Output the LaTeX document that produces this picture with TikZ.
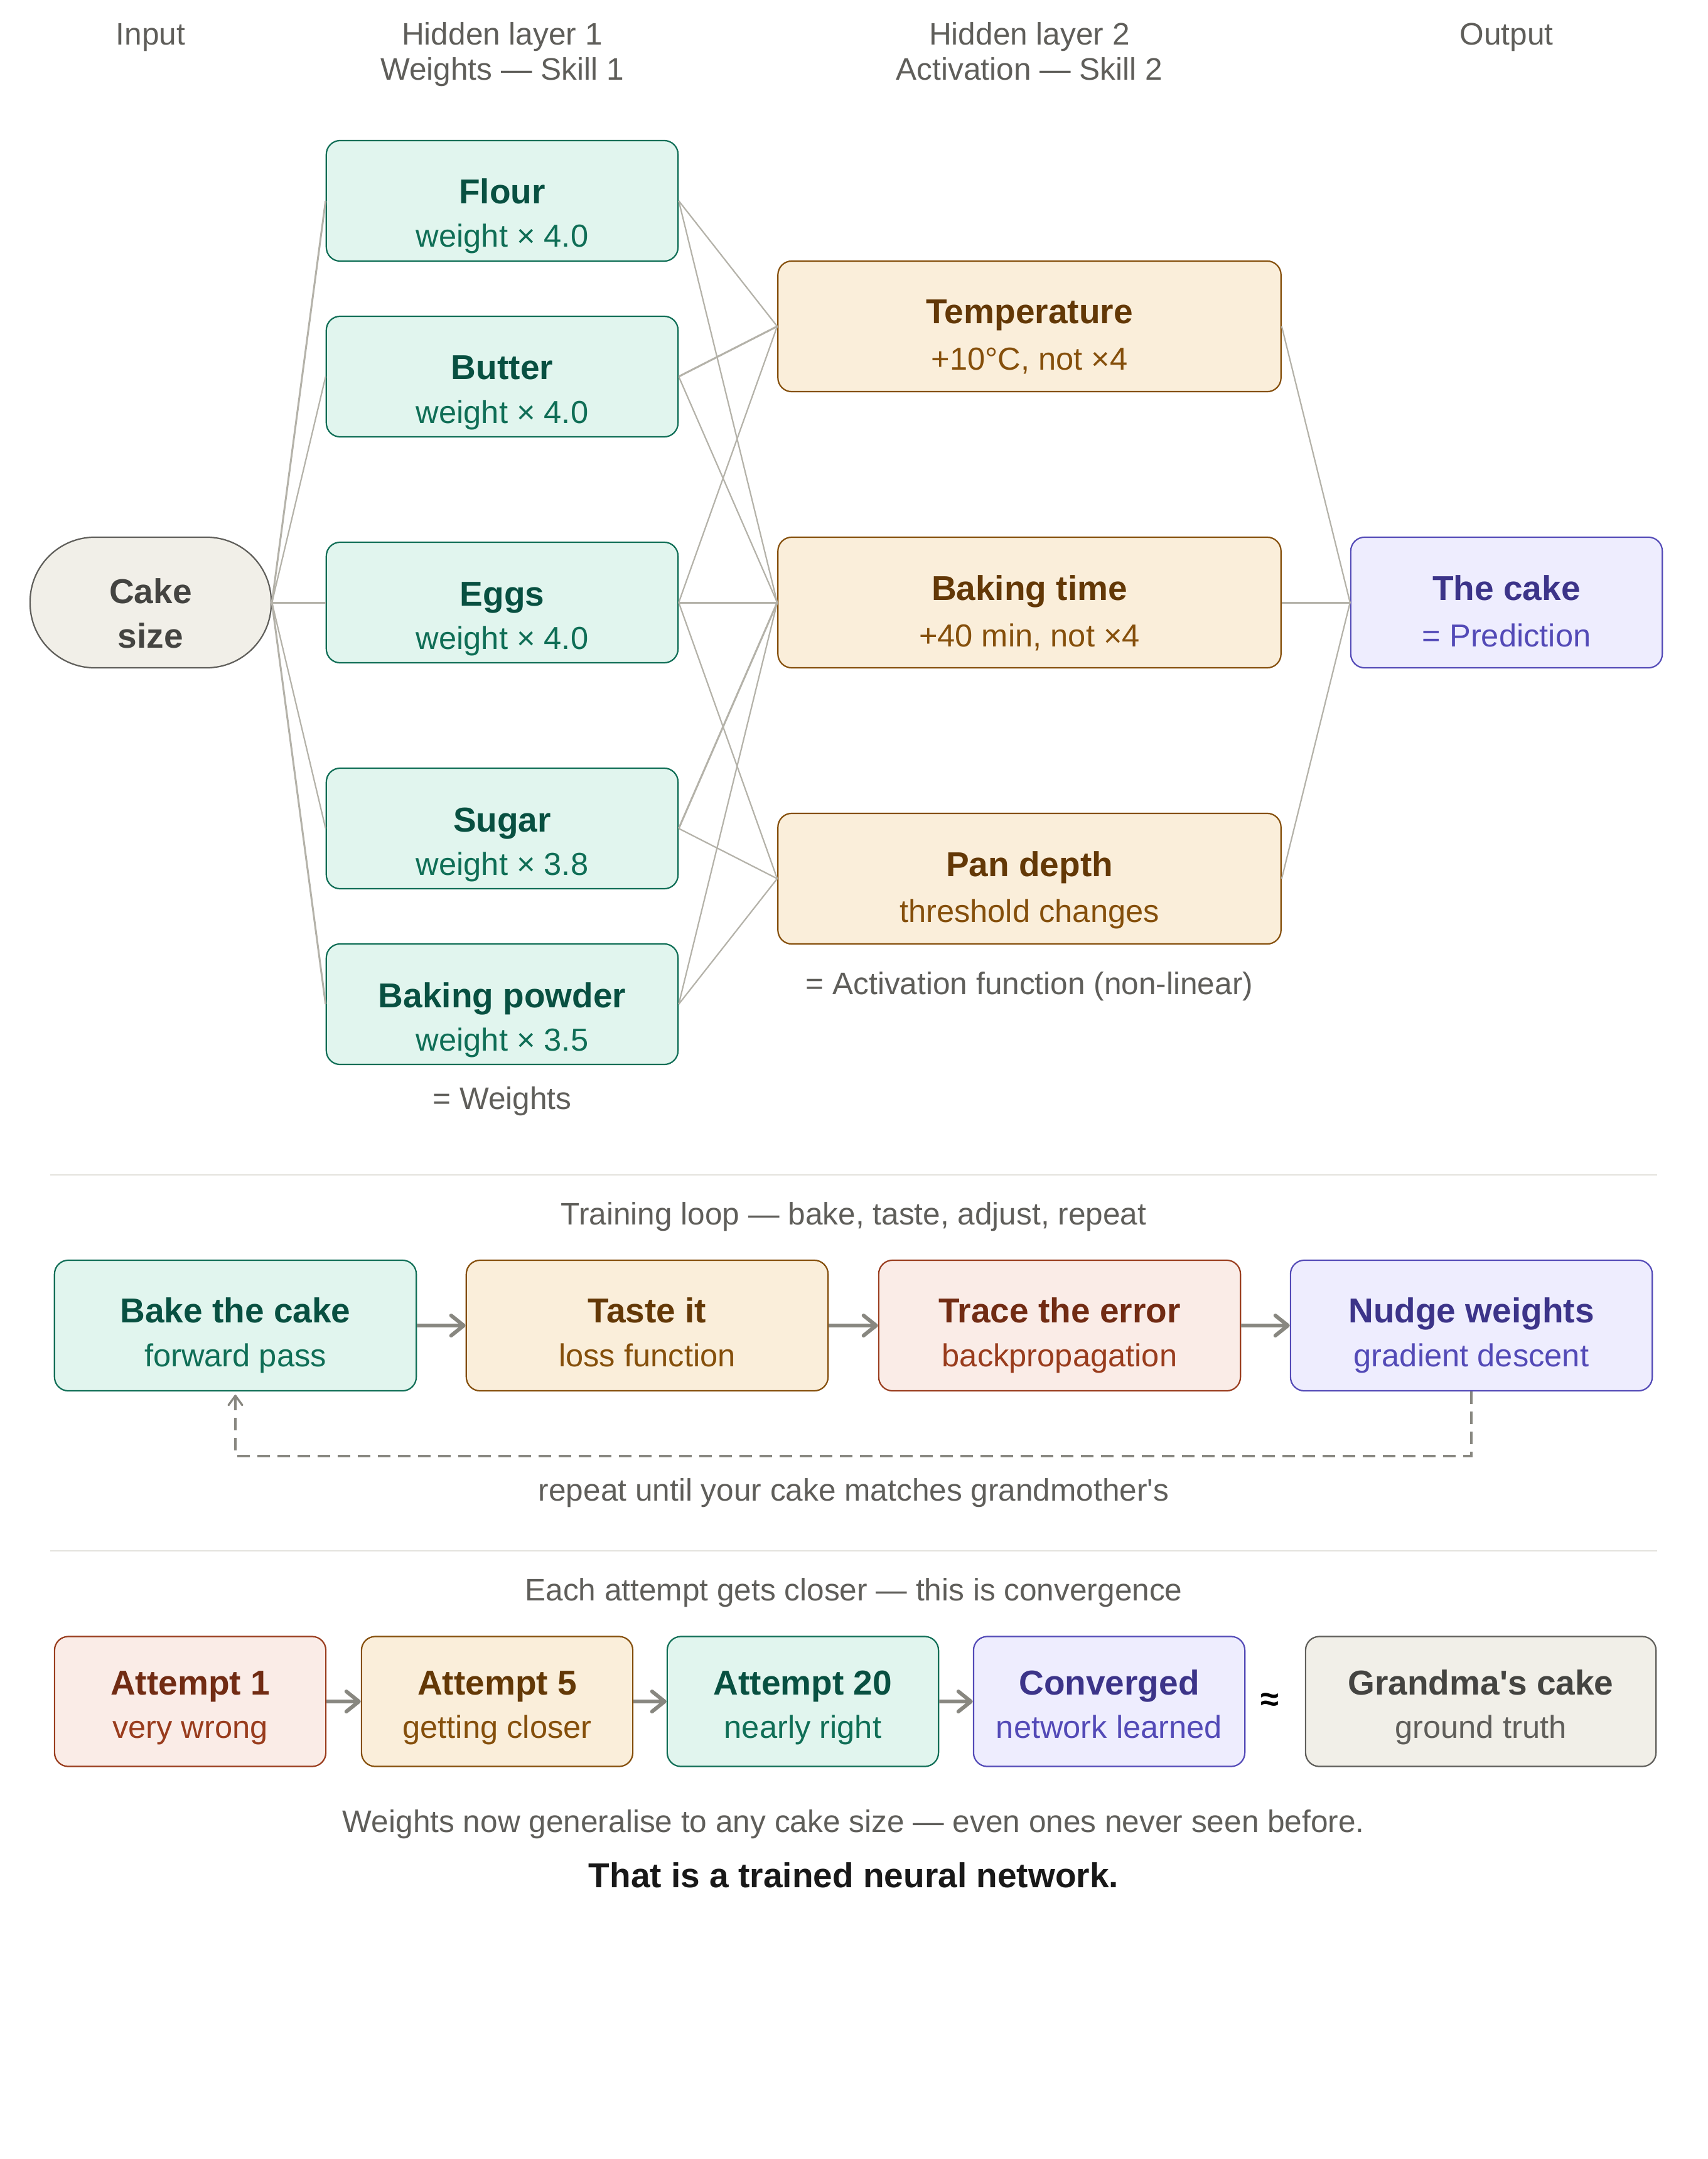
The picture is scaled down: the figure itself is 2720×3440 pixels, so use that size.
\documentclass[tikz,border=0pt]{standalone}
\usepackage{fontspec}
\setmainfont{Liberation Sans}
\usetikzlibrary{arrows.meta}
\definecolor{gfill}{HTML}{E1F5EE}
\definecolor{gdraw}{HTML}{0F6E56}
\definecolor{gtitle}{HTML}{085041}
\definecolor{afill}{HTML}{FAEEDA}
\definecolor{adraw}{HTML}{854F0B}
\definecolor{atitle}{HTML}{633806}
\definecolor{pfill}{HTML}{EEEDFE}
\definecolor{pdraw}{HTML}{534AB7}
\definecolor{ptitle}{HTML}{3C3489}
\definecolor{cfill}{HTML}{FAECE7}
\definecolor{cdraw}{HTML}{993C1D}
\definecolor{ctitle}{HTML}{712B13}
\definecolor{kfill}{HTML}{F1EFE8}
\definecolor{kdraw}{HTML}{5F5E5A}
\definecolor{ktitle}{HTML}{444441}
\definecolor{linec}{HTML}{B4B2A9}
\definecolor{arrc}{HTML}{888780}
\definecolor{txtc}{HTML}{5F5E5A}
\definecolor{sepc}{HTML}{E3E2DD}
\tikzset{
  box/.style={rectangle, rounded corners=0.22cm, line width=0.022cm, inner sep=0pt},
  gbox/.style={box, fill=gfill, draw=gdraw},
  abox/.style={box, fill=afill, draw=adraw},
  pbox/.style={box, fill=pfill, draw=pdraw},
  cbox/.style={box, fill=cfill, draw=cdraw},
  kbox/.style={box, fill=kfill, draw=kdraw},
  sizeA/.style={minimum width=5.6cm, minimum height=1.92cm},
  sizeB/.style={minimum width=8.01cm, minimum height=2.08cm},
  sizeC/.style={minimum width=4.96cm, minimum height=2.08cm},
  sizeL/.style={minimum width=5.76cm, minimum height=2.08cm},
  sizeT/.style={minimum width=4.32cm, minimum height=2.07cm},
  sizeG/.style={minimum width=5.58cm, minimum height=2.07cm},
  ttl/.style={anchor=base, inner sep=0pt, font=\fontsize{15.65}{18}\selectfont\bfseries},
  sbt/.style={anchor=base, inner sep=0pt, font=\fontsize{14.4}{17}\selectfont},
  lbl/.style={anchor=base, inner sep=0pt, text=txtc, font=\fontsize{14.1}{17}\selectfont},
  conn/.style={draw=linec, line width=0.022cm},
  thk/.style={line width=0.03cm},
  flow/.style={draw=arrc, line width=0.06cm, -{Straight Barb[length=0.2cm,width=0.32cm,line cap=round,line join=round]}},
  fback/.style={draw=arrc, line width=0.033cm, dash pattern=on 0.2cm off 0.12cm,
     -{Straight Barb[length=0.15cm,width=0.22cm,line cap=round,line join=round]}, shorten >=0.05cm},
  sepline/.style={draw=sepc, line width=0.02cm},
}
\begin{document}
\begin{tikzpicture}[x=0.01cm,y=-0.01cm]
\fill[white] (0,0) rectangle (2720,3440);
\useasboundingbox (0,0) rectangle (2720,3440);

% column headers
\node[lbl] (hin) at (240,72) {Input};
\node[lbl] (hl1a) at (800,72) {Hidden layer 1};
\node[lbl] (hl1b) at (800,128) {Weights — Skill 1};
\node[lbl] (hl2a) at (1640,72) {Hidden layer 2};
\node[lbl] (hl2b) at (1640,128) {Activation — Skill 2};
\node[lbl] (hout) at (2400,72) {Output};

% input
\node[kbox, rounded corners=1.03cm, minimum width=3.84cm, minimum height=2.08cm] (cake) at (240,960) {};
\node[ttl, text=ktitle] (cake-t) at (240,961) {Cake};
\node[ttl, text=ktitle] (cake-s) at (240,1032) {size};

% hidden layer 1
\node[gbox, sizeA] (flour) at (800,320) {};
\node[ttl, text=gtitle] (flour-t) at (800,325) {Flour};
\node[sbt, text=gdraw] (flour-s) at (800,394) {weight × 4.0};
\node[gbox, sizeA] (butter) at (800,600) {};
\node[ttl, text=gtitle] (butter-t) at (800,605) {Butter};
\node[sbt, text=gdraw] (butter-s) at (800,674) {weight × 4.0};
\node[gbox, sizeA] (eggs) at (800,960) {};
\node[ttl, text=gtitle] (eggs-t) at (800,965) {Eggs};
\node[sbt, text=gdraw] (eggs-s) at (800,1034) {weight × 4.0};
\node[gbox, sizeA] (sugar) at (800,1320) {};
\node[ttl, text=gtitle] (sugar-t) at (800,1325) {Sugar};
\node[sbt, text=gdraw] (sugar-s) at (800,1394) {weight × 3.8};
\node[gbox, sizeA] (bp) at (800,1600) {};
\node[ttl, text=gtitle] (bp-t) at (800,1605) {Baking powder};
\node[sbt, text=gdraw] (bp-s) at (800,1674) {weight × 3.5};
\node[lbl] (wlab) at (800,1767) {= Weights};

% hidden layer 2
\node[abox, sizeB] (temp) at (1640,520) {};
\node[ttl, text=atitle] (temp-t) at (1640,516) {Temperature};
\node[sbt, text=adraw] (temp-s) at (1640,590) {+10°C, not ×4};
\node[abox, sizeB] (bt) at (1640,960) {};
\node[ttl, text=atitle] (bt-t) at (1640,956) {Baking time};
\node[sbt, text=adraw] (bt-s) at (1640,1030) {+40 min, not ×4};
\node[abox, sizeB] (pd) at (1640,1400) {};
\node[ttl, text=atitle] (pd-t) at (1640,1396) {Pan depth};
\node[sbt, text=adraw] (pd-s) at (1640,1469) {threshold changes};
\node[lbl] (alab) at (1640,1584) {= Activation function (non-linear)};

% output
\node[pbox, sizeC] (out) at (2400,960) {};
\node[ttl, text=ptitle] (out-t) at (2400,956) {The cake};
\node[sbt, text=pdraw] (out-s) at (2400,1030) {= Prediction};

% connectors input -> hidden 1
\draw[conn, thk] (cake.east) -- (flour.west);
\draw[conn] (cake.east) -- (butter.west);
\draw[conn, thk] (cake.east) -- (eggs.west);
\draw[conn] (cake.east) -- (sugar.west);
\draw[conn, thk] (cake.east) -- (bp.west);

% hidden 1 -> hidden 2
\draw[conn] (flour.east) -- (temp.west);
\draw[conn] (flour.east) -- (bt.west);
\draw[conn, thk] (butter.east) -- (temp.west);
\draw[conn] (butter.east) -- (bt.west);
\draw[conn] (eggs.east) -- (temp.west);
\draw[conn, thk] (eggs.east) -- (bt.west);
\draw[conn] (eggs.east) -- (pd.west);
\draw[conn, thk] (sugar.east) -- (bt.west);
\draw[conn] (sugar.east) -- (pd.west);
\draw[conn] (bp.east) -- (bt.west);
\draw[conn] (bp.east) -- (pd.west);

% hidden 2 -> output
\draw[conn] (temp.east) -- (out.west);
\draw[conn, thk] (bt.east) -- (out.west);
\draw[conn] (pd.east) -- (out.west);

% separator 1
\coordinate (s1a) at (80,1872);
\coordinate (s1b) at (2640,1872);
\draw[sepline] (s1a) -- (s1b);

% training loop
\node[lbl] (looplab) at (1360,1951) {Training loop — bake, taste, adjust, repeat};
\node[gbox, sizeL] (bake) at (375,2112) {};
\node[ttl, text=gtitle] (bake-t) at (375,2107) {Bake the cake};
\node[sbt, text=gdraw] (bake-s) at (375,2177) {forward pass};
\node[abox, sizeL] (taste) at (1031,2112) {};
\node[ttl, text=atitle] (taste-t) at (1031,2107) {Taste it};
\node[sbt, text=adraw] (taste-s) at (1031,2177) {loss function};
\node[cbox, sizeL] (trace) at (1688,2112) {};
\node[ttl, text=ctitle] (trace-t) at (1688,2107) {Trace the error};
\node[sbt, text=cdraw] (trace-s) at (1688,2177) {backpropagation};
\node[pbox, sizeL] (nudge) at (2344,2112) {};
\node[ttl, text=ptitle] (nudge-t) at (2344,2107) {Nudge weights};
\node[sbt, text=pdraw] (nudge-s) at (2344,2177) {gradient descent};

\draw[flow] (bake.east) -- (taste.west);
\draw[flow] (taste.east) -- (trace.west);
\draw[flow] (trace.east) -- (nudge.west);

\coordinate (fb) at (2344,2320);
\draw[fback] (nudge.south) -- (fb) -| (bake.south);
\node[lbl] (replab) at (1360,2391) {repeat until your cake matches grandmother\textquotesingle s};

% separator 2
\coordinate (s2a) at (80,2471);
\coordinate (s2b) at (2640,2471);
\draw[sepline] (s2a) -- (s2b);

% convergence
\node[lbl] (convlab) at (1360,2550) {Each attempt gets closer — this is convergence};
\node[cbox, sizeT] (a1) at (303,2711) {};
\node[ttl, text=ctitle] (a1-t) at (303,2700) {Attempt 1};
\node[sbt, text=cdraw] (a1-s) at (303,2769) {very wrong};
\node[abox, sizeT] (a5) at (792,2711) {};
\node[ttl, text=atitle] (a5-t) at (792,2700) {Attempt 5};
\node[sbt, text=adraw] (a5-s) at (792,2769) {getting closer};
\node[gbox, sizeT] (a20) at (1279,2711) {};
\node[ttl, text=gtitle] (a20-t) at (1279,2700) {Attempt 20};
\node[sbt, text=gdraw] (a20-s) at (1279,2769) {nearly right};
\node[pbox, sizeT] (conv) at (1767,2711) {};
\node[ttl, text=ptitle] (conv-t) at (1767,2700) {Converged};
\node[sbt, text=pdraw] (conv-s) at (1767,2769) {network learned};
\node[kbox, sizeG] (gma) at (2359,2711) {};
\node[ttl, text=ktitle] (gma-t) at (2359,2700) {Grandma\textquotesingle s cake};
\node[sbt, text=kdraw] (gma-s) at (2359,2769) {ground truth};

\draw[flow] (a1.east) -- (a5.west);
\draw[flow] (a5.east) -- (a20.west);
\draw[flow] (a20.east) -- (conv.west);
\node[inner sep=0pt, font=\fontsize{15}{18}\selectfont\bfseries, text=black] (approx) at (2023,2712) {≈};

\node[lbl] (genlab) at (1360,2919) {Weights now generalise to any cake size — even ones never seen before.};
\node[ttl, text=black!90] (final) at (1360,3007) {That is a trained neural network.};
\end{tikzpicture}
\end{document}
